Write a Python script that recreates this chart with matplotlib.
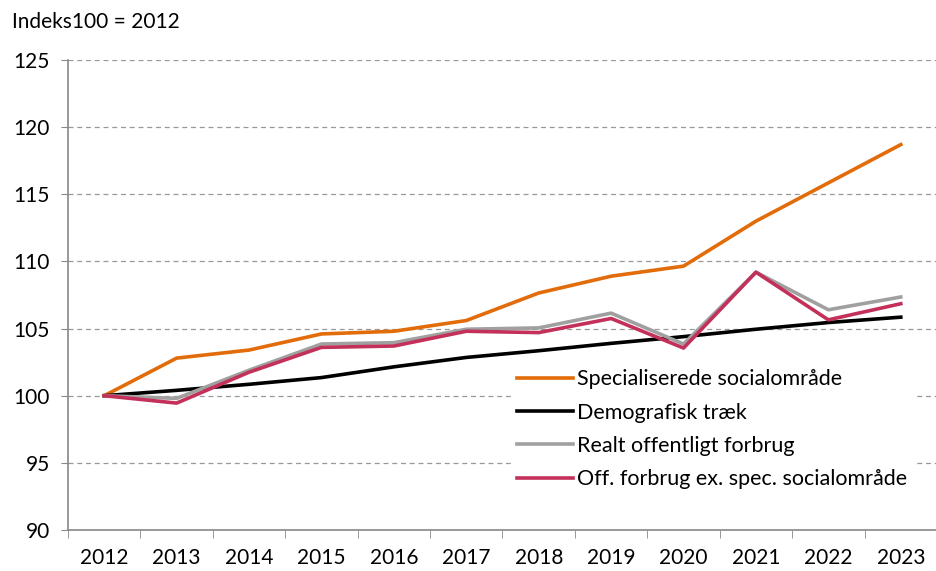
import matplotlib.pyplot as plt
import numpy as np

plt.rcParams['font.family'] = ['Lato', 'DejaVu Sans']

years = ['2012', '2013', '2014', '2015', '2016', '2017', '2018', '2019', '2020', '2021', '2022', '2023']
special = [100, 102.8, 103.4, 104.6, 104.8, 105.6, 107.65, 108.9, 109.65, 113.0, 115.85, 118.7]
demografi = [100, 100.4, 100.85, 101.35, 102.15, 102.85, 103.35, 103.9, 104.4, 104.95, 105.45, 105.85]
realt = [100, 99.8, 101.9, 103.85, 103.95, 104.95, 105.05, 106.15, 103.85, 109.2, 106.4, 107.35]
off_ex = [100, 99.45, 101.75, 103.6, 103.7, 104.8, 104.7, 105.75, 103.55, 109.2, 105.65, 106.85]

labels = ['Specialiserede socialområde', 'Demografisk træk',
          'Realt offentligt forbrug', 'Off. forbrug ex. spec. socialområde']
colors = ['#E36C0A', '#000000', '#A0A0A0', '#C3305A']

fig = plt.figure(figsize=(9.37, 5.71), dpi=100)
ax = fig.add_axes([68 / 937, 41 / 571, 869 / 937, 470 / 571])

x = np.arange(len(years))
for series, lab, col in zip([special, demografi, realt, off_ex], labels, colors):
    ax.plot(x, series, color=col, lw=2.6, label=lab, solid_joinstyle='round')

ax.set_ylim(90, 125)
ax.set_yticks(range(90, 126, 5))
ax.set_xlim(-0.5, len(years) - 0.5)
ax.set_xticks(x)
ax.set_xticklabels(years)
ax.set_xticks(np.arange(-0.5, len(years), 1), minor=True)
ax.tick_params(axis='x', which='major', length=0, pad=13, labelsize=15)
ax.tick_params(axis='x', which='minor', length=6, color='#888888', direction='out')
ax.tick_params(axis='y', length=5, color='#888888', labelsize=15, pad=8)

ax.grid(axis='y', linestyle=(0, (4, 3)), color='#999999', lw=0.9)
ax.set_axisbelow(True)
for s in ['top', 'right']:
    ax.spines[s].set_visible(False)
for s in ['left', 'bottom']:
    ax.spines[s].set_color('#888888')
    ax.spines[s].set_linewidth(1.2)

leg = ax.legend(loc='lower left', bbox_to_anchor=(0.497, 0.05), frameon=True,
                fontsize=15.5, handlelength=2.6, handletextpad=0.2,
                labelspacing=0.62, borderpad=0.3)
leg.get_frame().set_edgecolor('white')
leg.get_frame().set_facecolor('white')
leg.get_frame().set_alpha(1)
leg.get_frame().set_boxstyle('square', pad=0)

fig.text(12 / 937, 1 - 22 / 571, 'Indeks100 = 2012', fontsize=15, va='center', ha='left')

fig.savefig('out.png', dpi=100)
